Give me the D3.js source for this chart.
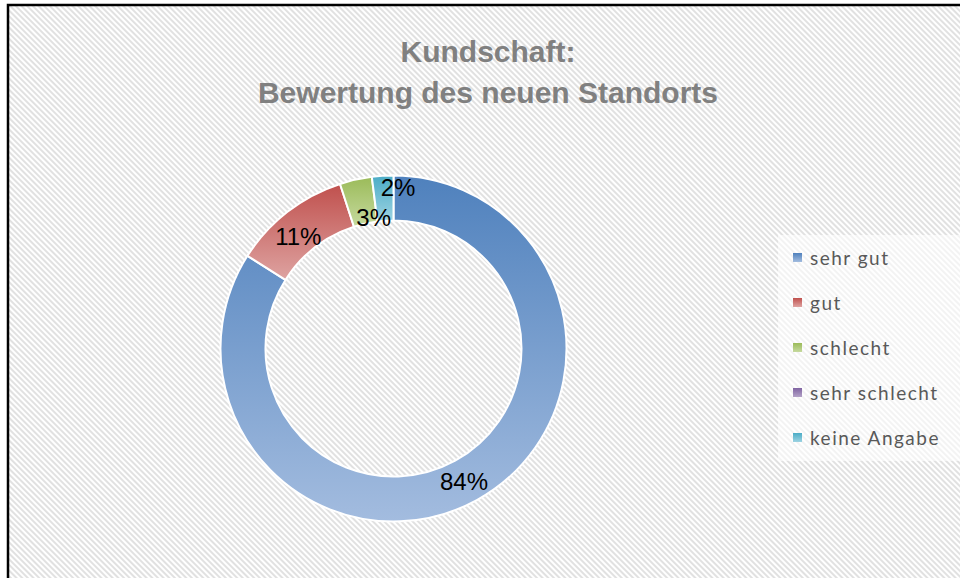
<!DOCTYPE html>
<html>
<head>
<meta charset="utf-8">
<script src="https://cdn.jsdelivr.net/npm/d3@7"></script>
<style>
    body { margin: 0; background: #fff; }
    svg { display: block; }
</style>
</head>
<body>
<div id="chart"></div>
<script>
// data
const categories = ["sehr gut", "gut", "schlecht", "sehr schlecht", "keine Angabe"];
const values = [84, 11, 3, 0, 2];
const darkColors = ["#4f81bd", "#c0504d", "#9bbb59", "#8064a2", "#4bacc6"];
const lightColors = ["#a3bcdf", "#dea3a1", "#c6da9f", "#b3a2c7", "#9dd3e2"];
const titleLines = ["Kundschaft:", "Bewertung des neuen Standorts"];

const width = 960, height = 578;

const svg = d3.select("#chart").append("svg")
    .attr("width", width)
    .attr("height", height);

const defs = svg.append("defs");

// diagonal hatch background
const hatch = defs.append("pattern")
    .attr("id", "hatch")
    .attr("patternUnits", "userSpaceOnUse")
    .attr("width", 4)
    .attr("height", 4)
    .attr("patternTransform", "rotate(45)");
hatch.append("rect").attr("width", 4).attr("height", 4).attr("fill", "#ffffff");
hatch.append("rect").attr("width", 4).attr("height", 2).attr("fill", "#e1e1e1");

// one vertical gradient per slice
categories.forEach((c, i) => {
    const g = defs.append("linearGradient")
        .attr("id", "grad" + i)
        .attr("x1", 0).attr("y1", 0).attr("x2", 0).attr("y2", 1);
    g.append("stop").attr("offset", "0%").attr("stop-color", darkColors[i]);
    g.append("stop").attr("offset", "100%").attr("stop-color", lightColors[i]);
});

// chart area with frame
svg.append("rect")
    .attr("x", 8).attr("y", 5)
    .attr("width", width + 20).attr("height", height + 20)
    .attr("fill", "url(#hatch)")
    .attr("stroke", "#000")
    .attr("stroke-width", 2.5);

// title
svg.append("text")
    .attr("text-anchor", "middle")
    .style("font-family", "'Liberation Sans', Arial, sans-serif")
    .style("font-weight", "bold")
    .style("font-size", "30px")
    .attr("fill", "#808080")
    .selectAll("tspan")
    .data(titleLines)
    .enter().append("tspan")
    .attr("x", 488)
    .attr("y", (d, i) => 62 + i * 41)
    .text(d => d);

// donut
const cx = 393.5, cy = 348.5;
const outerR = 173, innerR = 128;

const pie = d3.pie().sort(null).value(d => d.value);
const arcs = pie(categories.map((c, i) => ({category: c, value: values[i], idx: i})));

const arc = d3.arc().innerRadius(innerR).outerRadius(outerR);

const donut = svg.append("g").attr("transform", `translate(${cx},${cy})`);

donut.selectAll("path.slice")
    .data(arcs.filter(d => d.data.value > 0))
    .enter().append("path")
    .attr("class", "slice")
    .attr("d", arc)
    .attr("fill", d => `url(#grad${d.data.idx})`)
    .attr("stroke", "#fff")
    .attr("stroke-width", 2);

// labels: centroid plus small nudges like Excel does to avoid overlap
const nudge = {"sehr gut": [-2, 1], "gut": [-3, 7], "schlecht": [13, 16], "keine Angabe": [14, -11]};

donut.selectAll("text.lbl")
    .data(arcs.filter(d => d.data.value > 0))
    .enter().append("text")
    .attr("class", "lbl")
    .attr("text-anchor", "middle")
    .attr("dy", "0.35em")
    .attr("transform", d => {
        const [x, y] = arc.centroid(d);
        const n = nudge[d.data.category] || [0, 0];
        return `translate(${x + n[0]},${y + n[1]})`;
    })
    .style("font-family", "'Liberation Sans', Arial, sans-serif")
    .style("font-size", "24px")
    .attr("fill", "#000")
    .text(d => d.data.value + "%");

// legend
const legend = svg.append("g").attr("transform", "translate(778,235)");
legend.append("rect")
    .attr("width", 190).attr("height", 226)
    .attr("fill", "#fff")
    .attr("opacity", 0.6);

const legendY = d3.scalePoint().domain(categories).range([23, 203]);

const items = legend.selectAll("g.item")
    .data(categories)
    .enter().append("g")
    .attr("class", "item")
    .attr("transform", d => `translate(0,${legendY(d)})`);

items.append("rect")
    .attr("x", 15).attr("y", -5)
    .attr("width", 9).attr("height", 9)
    .attr("fill", (d, i) => `url(#grad${i})`);

items.append("text")
    .attr("x", 32)
    .attr("dy", "0.35em")
    .style("font-family", "Lato, 'Open Sans', sans-serif")
    .style("font-size", "19px")
    .style("letter-spacing", "1.5px")
    .attr("fill", "#595959")
    .text(d => d);
</script>
</body>
</html>
